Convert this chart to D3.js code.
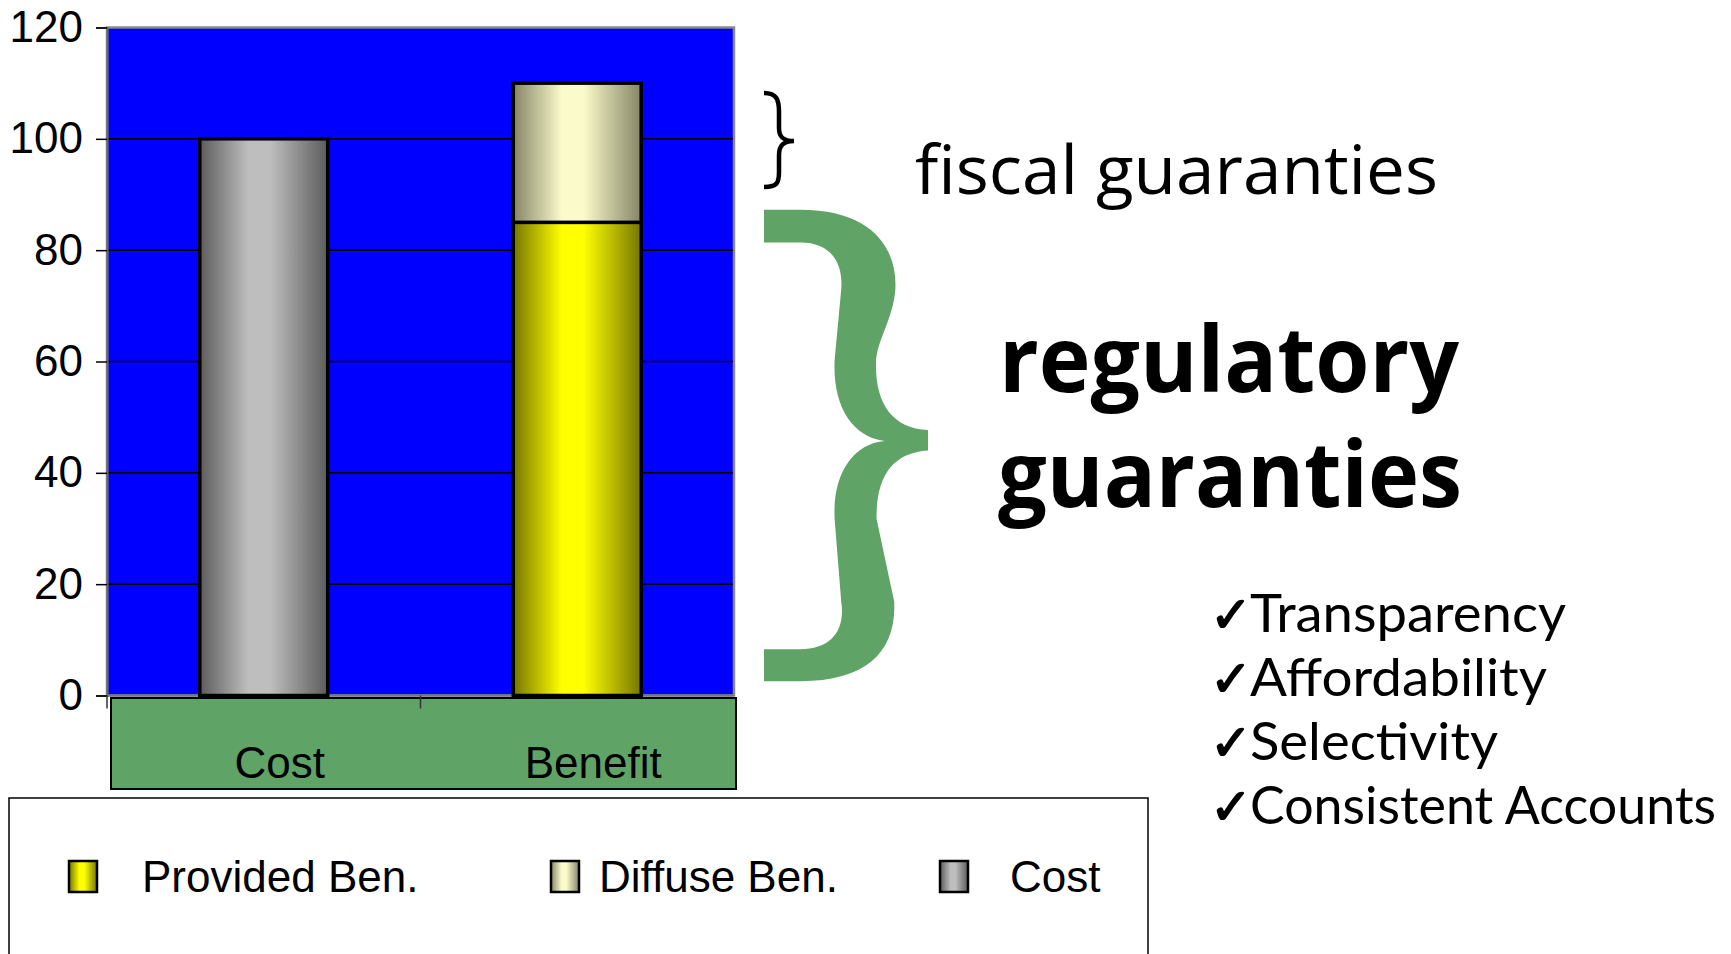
<!DOCTYPE html>
<html>
<head>
<meta charset="utf-8">
<script src="https://cdn.jsdelivr.net/npm/d3@7"></script>
<style>
html,body{margin:0;padding:0;background:#fff;}
svg{display:block;}
</style>
</head>
<body>
<svg id="chart" width="1731" height="954"></svg>
<script>
// ---- data ----
const categories = ["Cost", "Benefit"];
const seriesNames = ["Provided Ben.", "Diffuse Ben.", "Cost"];
const providedBen = [0, 85];
const diffuseBen = [0, 25];
const costValues = [100, 0];
const yTicks = [0, 20, 40, 60, 80, 100, 120];
const checklist = ["Transparency", "Affordability", "Selectivity", "Consistent Accounts"];

const svg = d3.select("#chart");
svg.append("rect").attr("width", 1731).attr("height", 954).attr("fill", "#fff");

const defs = svg.append("defs");
function grad(id, edge, mid) {
  const g = defs.append("linearGradient").attr("id", id).attr("x1", "0%").attr("x2", "100%").attr("y1", "0%").attr("y2", "0%");
  g.append("stop").attr("offset", "0%").attr("stop-color", edge);
  g.append("stop").attr("offset", "38%").attr("stop-color", mid);
  g.append("stop").attr("offset", "55%").attr("stop-color", mid);
  g.append("stop").attr("offset", "100%").attr("stop-color", edge);
}
grad("g-provided", "#767600", "#ffff00");
grad("g-diffuse", "#858566", "#fafacb");
grad("g-cost", "#5c5c5c", "#bebebe");
const fills = {"Provided Ben.": "url(#g-provided)", "Diffuse Ben.": "url(#g-diffuse)", "Cost": "url(#g-cost)"};

// ---- scales ----
const plot = {left: 107, right: 734, top: 27.5, bottom: 695.5};
const x = d3.scaleBand().domain(categories).range([plot.left, plot.right]).paddingInner(0.592).paddingOuter(0.296);
const y = d3.scaleLinear().domain([0, 120]).range([plot.bottom, plot.top]);

// plot background
svg.append("rect").attr("x", plot.left).attr("y", plot.top)
  .attr("width", plot.right - plot.left).attr("height", plot.bottom - plot.top)
  .attr("fill", "#0000ff").attr("stroke", "#8a8a8a").attr("stroke-width", 2.5);

// gridlines
svg.append("g").selectAll("line").data(yTicks.filter(d => d > 0 && d < 120)).join("line")
  .attr("x1", plot.left).attr("x2", plot.right - 1)
  .attr("y1", d => y(d)).attr("y2", d => y(d))
  .attr("stroke", "#000").attr("stroke-width", 1.5);

// green category band
svg.append("rect").attr("x", 111).attr("y", 698).attr("width", 625).attr("height", 91)
  .attr("fill", "#5fa366").attr("stroke", "#000").attr("stroke-width", 2);

// y axis
const yAxis = d3.axisLeft(y).tickValues(yTicks).tickSize(11).tickPadding(13);
const yg = svg.append("g").attr("transform", `translate(${plot.left},0)`).call(yAxis);
yg.select(".domain").attr("stroke", "#666").attr("stroke-width", 2);
yg.selectAll(".tick line").attr("stroke", "#000").attr("stroke-width", 1.5);
yg.selectAll(".tick text").attr("font-family", "'Liberation Sans', Arial, sans-serif")
  .attr("font-size", 44).attr("fill", "#000");

// x axis line + ticks
const xg = svg.append("g");
xg.append("line").attr("x1", plot.left).attr("x2", plot.right).attr("y1", plot.bottom).attr("y2", plot.bottom)
  .attr("stroke", "#777").attr("stroke-width", 2);
const boundaries = [plot.left, (x("Cost") + x.bandwidth() / 2 + x("Benefit") + x.bandwidth() / 2) / 2];
xg.selectAll("line.tk").data(boundaries).join("line").attr("class", "tk")
  .attr("x1", d => d).attr("x2", d => d).attr("y1", plot.bottom).attr("y2", plot.bottom + 13)
  .attr("stroke", "#333").attr("stroke-width", 1.5);
xg.selectAll("text").data(categories).join("text")
  .attr("x", d => x(d) + x.bandwidth() / 2 + 16).attr("y", 778)
  .attr("text-anchor", "middle")
  .attr("font-family", "'Liberation Sans', Arial, sans-serif").attr("font-size", 44).attr("fill", "#000")
  .text(d => d);

// ---- bars ----
const table = categories.map((c, i) => ({cat: c, "Cost": costValues[i], "Provided Ben.": providedBen[i], "Diffuse Ben.": diffuseBen[i]}));
const stack = d3.stack().keys(["Cost", "Provided Ben.", "Diffuse Ben."]);
const layers = stack(table);
svg.append("g").selectAll("g").data(layers).join("g")
  .attr("fill", d => fills[d.key])
  .selectAll("rect").data(d => d.filter(s => s[1] - s[0] > 0)).join("rect")
  .attr("x", d => x(d.data.cat)).attr("width", x.bandwidth())
  .attr("y", d => y(d[1])).attr("height", d => y(d[0]) - y(d[1]))
  .attr("stroke", "#000").attr("stroke-width", 3.5);

// ---- legend ----
svg.append("rect").attr("x", 9).attr("y", 798).attr("width", 1139).attr("height", 170)
  .attr("fill", "#fff").attr("stroke", "#000").attr("stroke-width", 1.5);
const legendSwatchX = [69, 551, 940];
const legendTextX = [142, 599, 1010];
const lg = svg.append("g").selectAll("g").data(seriesNames).join("g");
lg.append("rect").attr("x", (d, i) => legendSwatchX[i]).attr("y", 861).attr("width", 28).attr("height", 31)
  .attr("fill", d => fills[d]).attr("stroke", "#000").attr("stroke-width", 2.5);
lg.append("text").attr("x", (d, i) => legendTextX[i]).attr("y", 892)
  .attr("font-family", "'Liberation Sans', Arial, sans-serif").attr("font-size", 44).attr("fill", "#000")
  .text(d => d);

// ---- annotations ----
// small black brace
svg.append("path")
  .attr("d", "M 764 93 C 777 93 779 100 779 112 L 779 128 C 779 137 783 141 794 141 C 783 141 779 146 779 155 L 779 172 C 779 183 777 187 764 187")
  .attr("fill", "none").attr("stroke", "#000").attr("stroke-width", 4.5);

svg.append("text").attr("x", 915).attr("y", 194)
  .attr("font-family", "'Open Sans', 'Noto Sans', sans-serif").attr("font-size", 68)
  .attr("textLength", 523).attr("lengthAdjust", "spacingAndGlyphs").attr("fill", "#000")
  .text("fiscal guaranties");

// big green brace
svg.append("path")
  .attr("transform", "scale(1.104)")
  .attr("d", "M 692 190 L 725 190 C 790 190 813 225 811 262 C 809 290 793 310 793.5 330 C 793 365 808 388 840.6 389.5 L 840.6 408 C 808 410 793.5 432 794 470 L 810 545 C 812 590 785 617 725 617 L 692 617 L 692 588 L 725 588 C 752 588 766 572 762 545 L 756 470 C 754 430 772 402 801.6 399.5 C 772 396 754 368 756 326 L 762 262 C 764 235 750 219.7 725 219.7 L 692 219.7 Z")
  .attr("fill", "#5fa366");

const bold = svg.append("g").attr("font-family", "'Open Sans', 'Noto Sans', sans-serif")
  .attr("font-weight", 700).attr("font-size", 92).attr("fill", "#000");
bold.append("text").attr("x", 999).attr("y", 392).attr("textLength", 460).attr("lengthAdjust", "spacingAndGlyphs").text("regulatory");
bold.append("text").attr("x", 998).attr("y", 507).attr("textLength", 464).attr("lengthAdjust", "spacingAndGlyphs").text("guaranties");

// checklist: one text element per line, check glyph + word
const checkW = [316, 297, 248, 466];
const cl = svg.append("g").selectAll("text").data(checklist).join("text")
  .attr("y", (d, i) => 632 + i * 64).attr("fill", "#000");
cl.append("tspan").attr("x", 1210)
  .attr("font-family", "'DejaVu Sans', sans-serif").attr("font-size", 50)
  .attr("stroke", "#000").attr("stroke-width", 1.6)
  .text("\u2713");
cl.append("tspan").attr("x", 1250)
  .attr("font-family", "Lato, 'Open Sans', sans-serif").attr("font-size", 53)
  .attr("textLength", (d, i) => checkW[i]).attr("lengthAdjust", "spacingAndGlyphs")
  .text(d => d);
</script>
</body>
</html>
